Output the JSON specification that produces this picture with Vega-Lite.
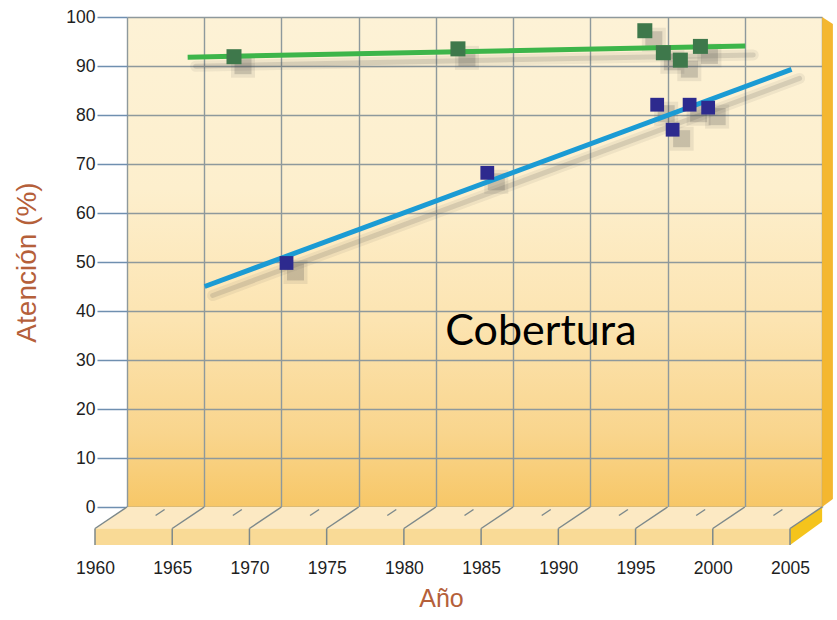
{
  "$schema": "https://vega.github.io/schema/vega-lite/v6.json",
  "width": 695,
  "height": 490,
  "autosize": {"type": "none"},
  "padding": {"left": 127, "top": 17, "right": 15, "bottom": 113},
  "background": "#ffffff",
  "config": {
    "view": {
      "stroke": null,
      "fill": {"expr": "{gradient: 'linear', x1: 0, y1: 0, x2: 0, y2: 1, stops: [{offset: 0, color: '#fdf2d6'}, {offset: 0.35, color: '#fdefcd'}, {offset: 0.62, color: '#fce4b1'}, {offset: 0.85, color: '#f9d58d'}, {offset: 1, color: '#f7c767'}]}"}
    }
  },
  "datasets": {
    "points": [
      {"year": 1969.0, "value": 91.9, "series": "superior"},
      {"year": 1983.5, "value": 93.5, "series": "superior"},
      {"year": 1995.6, "value": 97.2, "series": "superior"},
      {"year": 1996.8, "value": 92.7, "series": "superior"},
      {"year": 1997.9, "value": 91.2, "series": "superior"},
      {"year": 1999.2, "value": 94.0, "series": "superior"},
      {"year": 1972.4, "value": 49.8, "series": "Cobertura"},
      {"year": 1985.4, "value": 68.2, "series": "Cobertura"},
      {"year": 1996.4, "value": 82.1, "series": "Cobertura"},
      {"year": 1997.4, "value": 77.0, "series": "Cobertura"},
      {"year": 1998.5, "value": 82.1, "series": "Cobertura"},
      {"year": 1999.7, "value": 81.5, "series": "Cobertura"}
    ],
    "lines": [
      {"year": 1966.0, "value": 91.8, "series": "superior"},
      {"year": 2002.1, "value": 94.1, "series": "superior"},
      {"year": 1967.1, "value": 45.0, "series": "Cobertura"},
      {"year": 2005.1, "value": 89.3, "series": "Cobertura"}
    ],
    "years": [
      {"year": 1960}, {"year": 1965}, {"year": 1970}, {"year": 1975}, {"year": 1980},
      {"year": 1985}, {"year": 1990}, {"year": 1995}, {"year": 2000}, {"year": 2005}
    ],
    "mids": [
      {"year": 1962.5}, {"year": 1967.5}, {"year": 1972.5}, {"year": 1977.5}, {"year": 1982.5},
      {"year": 1987.5}, {"year": 1992.5}, {"year": 1997.5}, {"year": 2002.5}
    ],
    "one": [{}]
  },
  "layer": [
    {
      "data": {"name": "lines"},
      "mark": {"type": "line", "color": "#4a4a4a", "strokeWidth": 11, "opacity": 0.0},
      "encoding": {
        "x": {
          "field": "year",
          "type": "quantitative",
          "title": "Año",
          "scale": {"domain": [1960, 2005], "nice": false, "zero": false},
          "axis": {
            "values": [1960, 1965, 1970, 1975, 1980, 1985, 1990, 1995, 2000, 2005],
            "grid": true,
            "gridColor": "#8e999c",
            "gridWidth": 1.4,
            "ticks": false,
            "tickSize": 0,
            "domain": false,
            "labelOffset": -32,
            "labelPadding": 66,
            "labelBaseline": "alphabetic",
            "labelFont": "Liberation Sans, Arial, sans-serif",
            "labelFontSize": 17.5,
            "labelColor": "#1e1e1e",
            "labelFlush": false,
            "labelOverlap": false,
            "format": "d",
            "titleFont": "Liberation Sans, Arial, sans-serif",
            "titleFontSize": 25,
            "titleFontWeight": "normal",
            "titleColor": "#b5603a",
            "titleX": 314,
            "titleY": 99,
            "titleAlign": "center",
            "titleBaseline": "alphabetic"
          }
        },
        "y": {
          "field": "value",
          "type": "quantitative",
          "title": "Atención (%)",
          "scale": {"domain": [0, 100], "nice": false},
          "axis": {
            "values": [0, 5, 10, 15, 20, 25, 30, 35, 40, 45, 50, 55, 60, 65, 70, 75, 80, 85, 90, 95, 100],
            "grid": true,
            "gridColor": "#8e999c",
            "gridWidth": 1.4,
            "gridOpacity": {"condition": {"test": "datum.value % 10 === 0", "value": 1}, "value": 0},
            "labelExpr": "datum.value % 10 === 0 ? datum.label : ''",
            "tickSize": {"condition": {"test": "datum.value % 10 === 0", "value": 30}, "value": 13},
            "tickColor": "#6f8fb0",
            "tickWidth": 1.5,
            "domain": false,
            "labelPadding": 2,
            "labelFont": "Liberation Sans, Arial, sans-serif",
            "labelFontSize": 17.5,
            "labelColor": "#1e1e1e",
            "labelFlush": false,
            "labelOverlap": false,
            "titleFont": "Liberation Sans, Arial, sans-serif",
            "titleFontSize": 28,
            "titleFontWeight": "normal",
            "titleColor": "#b5603a",
            "titleX": -100,
            "titleY": 245,
            "titleAngle": -90,
            "titleAlign": "center",
            "titleBaseline": "middle"
          }
        },
        "detail": {"field": "series"}
      }
    },
    {
      "data": {"name": "one"},
      "mark": {"type": "point", "shape": "M-0.869,0L0.869,0L0.789,0.0538L-0.949,0.0538Z", "size": 640000, "filled": true, "fill": "#fce9c3", "strokeWidth": 0, "opacity": 1},
      "encoding": {"x": {"datum": 1982.5, "type": "quantitative"}, "y": {"datum": 0, "type": "quantitative"}}
    },
    {
      "data": {"name": "one"},
      "mark": {"type": "point", "shape": "M-0.949,0.0538L0.789,0.0538L0.789,0.095L-0.949,0.095Z", "size": 640000, "filled": true, "fill": "#f9da96", "strokeWidth": 0, "opacity": 1},
      "encoding": {"x": {"datum": 1982.5, "type": "quantitative"}, "y": {"datum": 0, "type": "quantitative"}}
    },
    {
      "data": {"name": "one"},
      "mark": {"type": "point", "shape": "M0.789,0.0538L0.869,0L0.869,0.037L0.789,0.095Z", "size": 640000, "filled": true, "fill": "#f5c41c", "strokeWidth": 0, "opacity": 1},
      "encoding": {"x": {"datum": 1982.5, "type": "quantitative"}, "y": {"datum": 0, "type": "quantitative"}}
    },
    {
      "data": {"name": "one"},
      "mark": {"type": "point", "shape": "M0.869,-1.225L0.896,-1.2075L0.896,-0.02L0.869,0Z", "size": 640000, "filled": true, "fill": "#f4b730", "strokeWidth": 0, "opacity": 1},
      "encoding": {"x": {"datum": 1982.5, "type": "quantitative"}, "y": {"datum": 0, "type": "quantitative"}}
    },
    {
      "data": {"name": "years"},
      "mark": {"type": "rule", "color": "#7d898b", "strokeWidth": 1.5, "x2Offset": -32, "y2Offset": 21.5},
      "encoding": {"x": {"field": "year", "type": "quantitative", "title": "Año"}, "x2": {"field": "year"}, "y": {"datum": 0, "type": "quantitative"}, "y2": {"datum": 0}}
    },
    {
      "data": {"name": "years"},
      "mark": {"type": "rule", "color": "#7d898b", "strokeWidth": 1.5, "xOffset": -32, "x2Offset": -32, "yOffset": 21.5, "y2Offset": 38},
      "encoding": {"x": {"field": "year", "type": "quantitative", "title": "Año"}, "x2": {"field": "year"}, "y": {"datum": 0, "type": "quantitative"}, "y2": {"datum": 0}}
    },
    {
      "data": {"name": "mids"},
      "mark": {"type": "rule", "color": "#7d898b", "strokeWidth": 1.5, "xOffset": -1, "yOffset": 2.5, "x2Offset": -10, "y2Offset": 8.5},
      "encoding": {"x": {"field": "year", "type": "quantitative", "title": "Año"}, "x2": {"field": "year"}, "y": {"datum": 0, "type": "quantitative"}, "y2": {"datum": 0}}
    },
    {
      "data": {"name": "lines"},
      "mark": {"type": "line", "color": "#4a4a4a", "strokeWidth": 11, "opacity": 0.08, "xOffset": -24, "yOffset": 9, "strokeCap": "round"},
      "encoding": {"x": {"field": "year", "type": "quantitative", "title": "Año"}, "y": {"field": "value", "type": "quantitative", "title": "Atención (%)"}, "detail": {"field": "series"}}
    },
    {
      "data": {"name": "lines"},
      "mark": {"type": "line", "color": "#4a4a4a", "strokeWidth": 5, "opacity": 0.15, "xOffset": -24, "yOffset": 9, "strokeCap": "round"},
      "encoding": {"x": {"field": "year", "type": "quantitative", "title": "Año"}, "y": {"field": "value", "type": "quantitative", "title": "Atención (%)"}, "detail": {"field": "series"}}
    },
    {
      "data": {"name": "points"},
      "mark": {"type": "square", "color": "#4a4a4a", "size": 576, "opacity": 0.1, "xOffset": -23, "yOffset": 9},
      "encoding": {"x": {"field": "year", "type": "quantitative", "title": "Año"}, "y": {"field": "value", "type": "quantitative", "title": "Atención (%)"}, "detail": {"field": "series"}}
    },
    {
      "data": {"name": "points"},
      "mark": {"type": "square", "color": "#4a4a4a", "size": 289, "opacity": 0.22, "xOffset": -23, "yOffset": 9},
      "encoding": {"x": {"field": "year", "type": "quantitative", "title": "Año"}, "y": {"field": "value", "type": "quantitative", "title": "Atención (%)"}, "detail": {"field": "series"}}
    },
    {
      "data": {"name": "lines"},
      "mark": {"type": "line", "strokeWidth": 5, "xOffset": -32, "opacity": 1},
      "encoding": {
        "x": {"field": "year", "type": "quantitative", "title": "Año"},
        "y": {"field": "value", "type": "quantitative", "title": "Atención (%)"},
        "color": {"field": "series", "type": "nominal", "scale": {"domain": ["superior", "Cobertura"], "range": ["#3db54a", "#1b9bd4"]}, "legend": null}
      }
    },
    {
      "data": {"name": "points"},
      "mark": {"type": "square", "xOffset": -32, "opacity": 1},
      "encoding": {
        "x": {"field": "year", "type": "quantitative", "title": "Año"},
        "y": {"field": "value", "type": "quantitative", "title": "Atención (%)"},
        "fill": {"field": "series", "type": "nominal", "scale": {"domain": ["superior", "Cobertura"], "range": ["#3e784b", "#2d2a8e"]}, "legend": null},
        "size": {"field": "series", "type": "nominal", "scale": {"domain": ["superior", "Cobertura"], "range": [225, 190]}, "legend": null}
      }
    },
    {
      "data": {"name": "one"},
      "mark": {"type": "text", "text": "Cobertura", "font": "Lato", "fontSize": 43, "color": "#000000", "align": "center", "baseline": "alphabetic"},
      "encoding": {"x": {"datum": 1986.8, "type": "quantitative"}, "y": {"datum": 33.1, "type": "quantitative"}}
    }
  ],
  "resolve": {"scale": {"color": "independent"}}
}
